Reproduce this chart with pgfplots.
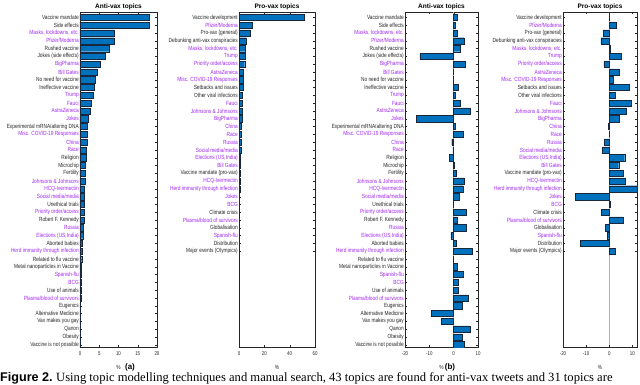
\documentclass[border=0pt]{standalone}
\usepackage{fontspec}
\setmainfont{Liberation Sans}
\newfontfamily\labfont[FakeStretch=0.8]{Liberation Sans}
\newfontfamily\capserif{Liberation Serif}
\usepackage{pgfplots}
\pgfplotsset{compat=1.18}

\definecolor{vp}{RGB}{160,40,240}
\definecolor{tx}{RGB}{38,38,38}
\definecolor{barblue}{RGB}{0,114,189}
\definecolor{baredge}{RGB}{25,40,60}
\newcommand\pu[1]{\textcolor{vp}{#1}}

\pgfplotsset{
  every axis title shift=0pt,
  panel/.style={
    xbar, scale only axis, height=335pt,
    y dir=reverse, ymin=0.3, ymax=43.3,
    bar width=0.8,
    axis line style={tx, line width=0.4pt},
    tick align=inside, major tick length=2pt,
    tick style={tx, line width=0.3pt},
    yticklabel style={font=\labfont\fontsize{6}{6}\selectfont, text=tx, inner sep=1pt},
    xticklabel style={font=\labfont\fontsize{5.5}{6}\selectfont, text=tx, yshift=-1pt},
    /pgf/number format/assume math mode=true,
    xlabel={\%}, xlabel style={font=\labfont\fontsize{6}{6}\selectfont, text=tx, yshift=-3pt},
    title style={font=\bfseries\fontsize{6.5}{7}\selectfont, text=black, at={(0.5,1)}, anchor=south, inner sep=1pt, yshift=1pt},
    anchor=north west, clip=true,
  },
  zeroline/.style={
    extra x ticks={0}, extra x tick labels={},
    extra x tick style={grid=major, major grid style={gray!60, line width=0.6pt}},
  },
  barstyle/.style={fill=barblue, draw=baredge, line width=0.4pt},
  antilabels/.style={
    ytick={1,...,43},
    yticklabels={Vaccine mandate, Side effects, \pu{Masks, lockdowns, etc.}, \pu{Pfizer/Moderna},
      Rushed vaccine, Jokes (side effects), \pu{BigPharma}, \pu{Bill Gates}, No need for vaccine,
      Ineffective vaccine, \pu{Trump}, \pu{Fauci}, \pu{AstraZeneca}, \pu{Jokes},
      Experimental mRNA/altering DNA, \pu{Misc. COVID-19 Responses}, \pu{China}, \pu{Race},
      Religion, Microchip, Fertility, \pu{Johnsons \& Johnsons}, \pu{HCQ-Ivermectin},
      \pu{Social media/media}, Unethical trials, \pu{Priority order/access}, Robert F. Kennedy,
      \pu{Russia}, \pu{Elections (US,India)}, Aborted babies, \pu{Herd immunity through infection},
      Related to flu vaccine, Metal nanoparticles in Vaccine, \pu{Spanish-flu}, \pu{BCG},
      Use of animals, \pu{Plasma/blood of survivors}, Eugenics, Alternative Medicine,
      Vax makes you gay, Qanon, Obesity, Vaccine is not possible},
  },
  prolabels/.style={
    ytick={1,...,31},
    yticklabels={Vaccine development, \pu{Pfizer/Moderna}, Pro-vax (general),
      Debunking anti-vax conspiracies, \pu{Masks, lockdowns, etc.}, \pu{Trump},
      \pu{Priority order/access}, \pu{AstraZeneca}, \pu{Misc. COVID-19 Responses},
      Setbacks and issues, Other viral infections, \pu{Fauci}, \pu{Johnsons \& Johnsons},
      \pu{BigPharma}, \pu{China}, \pu{Race}, \pu{Russia}, \pu{Social media/media},
      \pu{Elections (US,India)}, \pu{Bill Gates}, Vaccine mandate (pro-vax), \pu{HCQ-Ivermectin},
      \pu{Herd immunity through infection}, \pu{Jokes}, \pu{BCG}, Climate crisis,
      \pu{Plasma/blood of survivors}, Globalisation, \pu{Spanish-flu}, Distribution,
      Major events (Olympics)},
  },
}

\begin{document}
\begin{tikzpicture}
\useasboundingbox (0pt,0pt) rectangle (640pt,-384pt);

% (a) anti-vax share
\begin{axis}[panel, antilabels, at={(80pt,-12pt)}, width=77pt,
  xmin=0, xmax=20, xtick={0,5,...,20}, title={Anti-vax topics}]
\addplot[barstyle] coordinates {
(18.0,1) (18.0,2) (9.0,3) (8.8,4) (7.5,5) (6.6,6) (5.3,7) (4.4,8) (4.0,9) (3.6,10)
(3.5,11) (2.9,12) (2.7,13) (2.2,14) (2.0,15) (1.9,16) (1.8,17) (1.7,18) (1.6,19) (1.4,20)
(1.4,21) (1.3,22) (1.2,23) (1.2,24) (1.05,25) (1.0,26) (1.0,27) (0.9,28) (0.8,29) (0.6,30)
(0.5,31) (0.45,32) (0.35,33) (0.3,34) (0.25,35) (0.2,36) (0.2,37) (0.15,38) (0.12,39) (0.1,40)
(0.08,41) (0.05,42) (0.03,43)};
\end{axis}

% (a) pro-vax share
\begin{axis}[panel, prolabels, at={(239pt,-12pt)}, width=76pt,
  xmin=0, xmax=60, xtick={0,20,40,60}, title={Pro-vax topics}]
\addplot[barstyle] coordinates {
(51.5,1) (10.5,2) (9.0,3) (5.8,4) (4.7,5) (4.7,6) (4.5,7) (3.6,8) (3.4,9) (3.1,10)
(2.8,11) (2.5,12) (2.4,13) (2.2,14) (2.0,15) (1.9,16) (1.6,17) (1.4,18) (1.3,19) (1.1,20)
(0.9,21) (0.7,22) (0.6,23) (0.5,24) (0.4,25) (0.35,26) (0.3,27) (0.25,28) (0.2,29) (0.15,30)
(0.1,31)};
\end{axis}

% (b) anti-vax change
\begin{axis}[panel, zeroline, antilabels, at={(405pt,-12pt)}, width=73pt,
  xmin=-20, xmax=10, xtick={-20,-10,0,10}, title={Anti-vax topics}]
\addplot[barstyle] coordinates {
(1.5,1) (0.8,2) (1.5,3) (4.3,4) (2.8,5) (-13.9,6) (4.9,7) (0,8) (-0.2,9) (1.8,10)
(0.8,11) (2.6,12) (6.9,13) (-15.4,14) (0.8,15) (3.9,16) (-0.8,17) (-0.3,18) (-1.7,19) (0.1,20)
(1.0,21) (4.3,22) (3.9,23) (2.1,24) (-0.1,25) (5.3,26) (1.6,27) (5.1,28) (-1.1,29) (1.1,30)
(7.8,31) (-0.1,32) (1.4,33) (4.0,34) (2.0,35) (1.7,36) (6.0,37) (3.4,38) (-9.2,39) (-5.1,40)
(6.7,41) (3.5,42) (4.4,43)};
\end{axis}

% (b) pro-vax change
\begin{axis}[panel, zeroline, prolabels, at={(563pt,-12pt)}, width=74pt,
  xmin=-20, xmax=12, xtick={-20,-10,0,10}, title={Pro-vax topics}]
\addplot[barstyle] coordinates {
(0.1,1) (2.9,2) (-2.6,3) (-3.6,4) (0.2,5) (5.2,6) (-2.3,7) (4.5,8) (1.6,9) (8.6,10)
(2.7,11) (9.3,12) (7.5,13) (4.5,14) (-0.5,15) (0,16) (-2.2,17) (-2.9,18) (6.7,19) (4.1,20)
(6.2,21) (7.1,22) (12.0,23) (-14.7,24) (0.3,25) (-3.4,26) (6.0,27) (-1.8,28) (-0.8,29) (-12.5,30)
(2.6,31)};
\end{axis}

\node[font=\bfseries\fontsize{8}{8}\selectfont] at (130pt,-367pt) {(a)};
\node[font=\bfseries\fontsize{8}{8}\selectfont] at (450pt,-367pt) {(b)};
\node[anchor=base west, inner sep=0pt] at (0pt,-381pt)
  {\fontsize{12.6}{13}\selectfont\textbf{Figure 2.}\ \capserif Using topic modelling techniques and manual search, 43 topics are found for anti-vax tweets and 31 topics are};
\end{tikzpicture}
\end{document}
